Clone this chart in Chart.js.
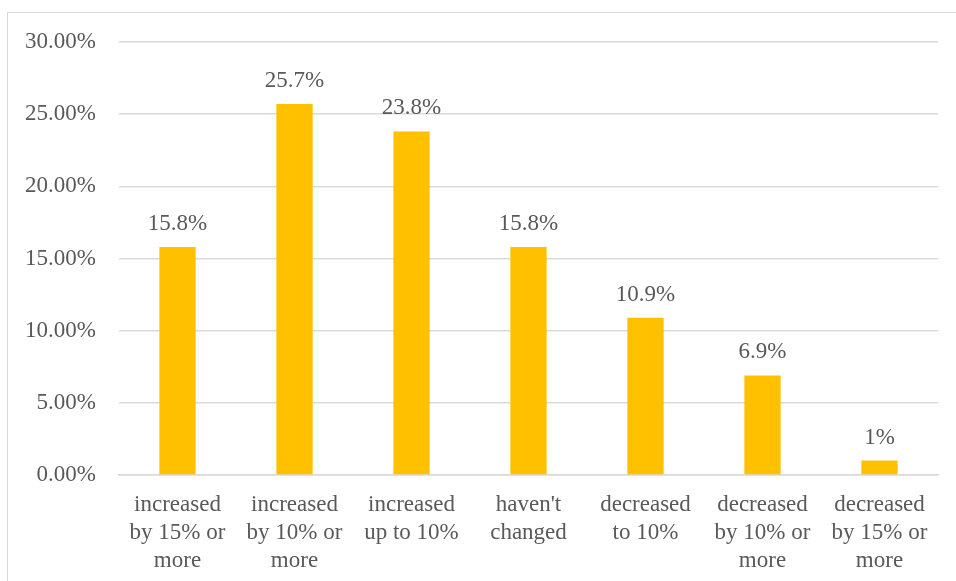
<!DOCTYPE html>
<html>
<head>
<meta charset="utf-8">
<script src="https://cdn.jsdelivr.net/npm/chart.js@4/dist/chart.umd.min.js"></script>
<style>
  html, body { margin: 0; padding: 0; background: #ffffff; }
  body { width: 956px; height: 581px; position: relative; overflow: hidden; }
  #frame { position: absolute; left: 7px; top: 12px; width: 980px; height: 600px;
           border: 1px solid #d9d9d9; box-sizing: border-box; }
  #wrap { position: absolute; left: 0; top: 0; width: 956px; height: 581px; }
</style>
</head>
<body>
<div id="frame"></div>
<div id="wrap"><canvas id="chart"></canvas></div>
<script>
// Categories (multi-line labels) and shares of respondents, in percent
const categories = [
  ["increased", "by 15% or", "more"],
  ["increased", "by 10% or", "more"],
  ["increased", "up to 10%"],
  ["haven't", "changed"],
  ["decreased", "to 10%"],
  ["decreased", "by 10% or", "more"],
  ["decreased", "by 15% or", "more"]
];
const shares = [15.8, 25.7, 23.8, 15.8, 10.9, 6.9, 1];
const valueLabels = ["15.8%", "25.7%", "23.8%", "15.8%", "10.9%", "6.9%", "1%"];
const yTicks = [0, 5, 10, 15, 20, 25, 30];

const FONT = "'Liberation Serif', 'Times New Roman', serif";
const TEXT = "#595959";
const GRID = "#d9d9d9";

// Writes each bar's value just above it
const valueLabelPlugin = {
  id: "valueLabels",
  afterDatasetsDraw(chart) {
    const ctx = chart.ctx;
    const meta = chart.getDatasetMeta(0);
    ctx.save();
    ctx.font = "23px " + FONT;
    ctx.fillStyle = TEXT;
    ctx.textAlign = "center";
    ctx.textBaseline = "alphabetic";
    meta.data.forEach((bar, i) => {
      ctx.fillText(valueLabels[i], bar.x, bar.y - 17);
    });
    ctx.restore();
  }
};

new Chart(document.getElementById("chart"), {
  type: "bar",
  data: {
    labels: categories,
    datasets: [{
      data: shares,
      backgroundColor: "#ffc000",
      borderWidth: 0,
      categoryPercentage: 1,
      barPercentage: 0.31
    }]
  },
  options: {
    responsive: true,
    maintainAspectRatio: false,
    animation: false,
    events: [],
    layout: { padding: { top: 42, right: 18, bottom: 0, left: 0 } },
    plugins: { legend: { display: false }, tooltip: { enabled: false } },
    scales: {
      x: {
        grid: { display: false, drawTicks: false },
        border: { display: true, color: GRID, width: 1.5 },
        ticks: {
          color: TEXT,
          font: { family: FONT, size: 23, lineHeight: 1.21 },
          padding: 16,
          maxRotation: 0,
          autoSkip: false
        },
        afterFit(scale) { scale.height = 106; }
      },
      y: {
        min: 0,
        max: 30,
        afterBuildTicks(scale) { scale.ticks = yTicks.map(v => ({ value: v })); },
        grid: { color: GRID, lineWidth: 1.5, drawTicks: false },
        border: { display: false },
        ticks: {
          color: TEXT,
          font: { family: FONT, size: 23 },
          padding: 23,
          callback: v => v.toFixed(2) + "%"
        },
        afterFit(scale) { scale.width = 119; }
      }
    }
  },
  plugins: [valueLabelPlugin]
});
</script>
</body>
</html>
